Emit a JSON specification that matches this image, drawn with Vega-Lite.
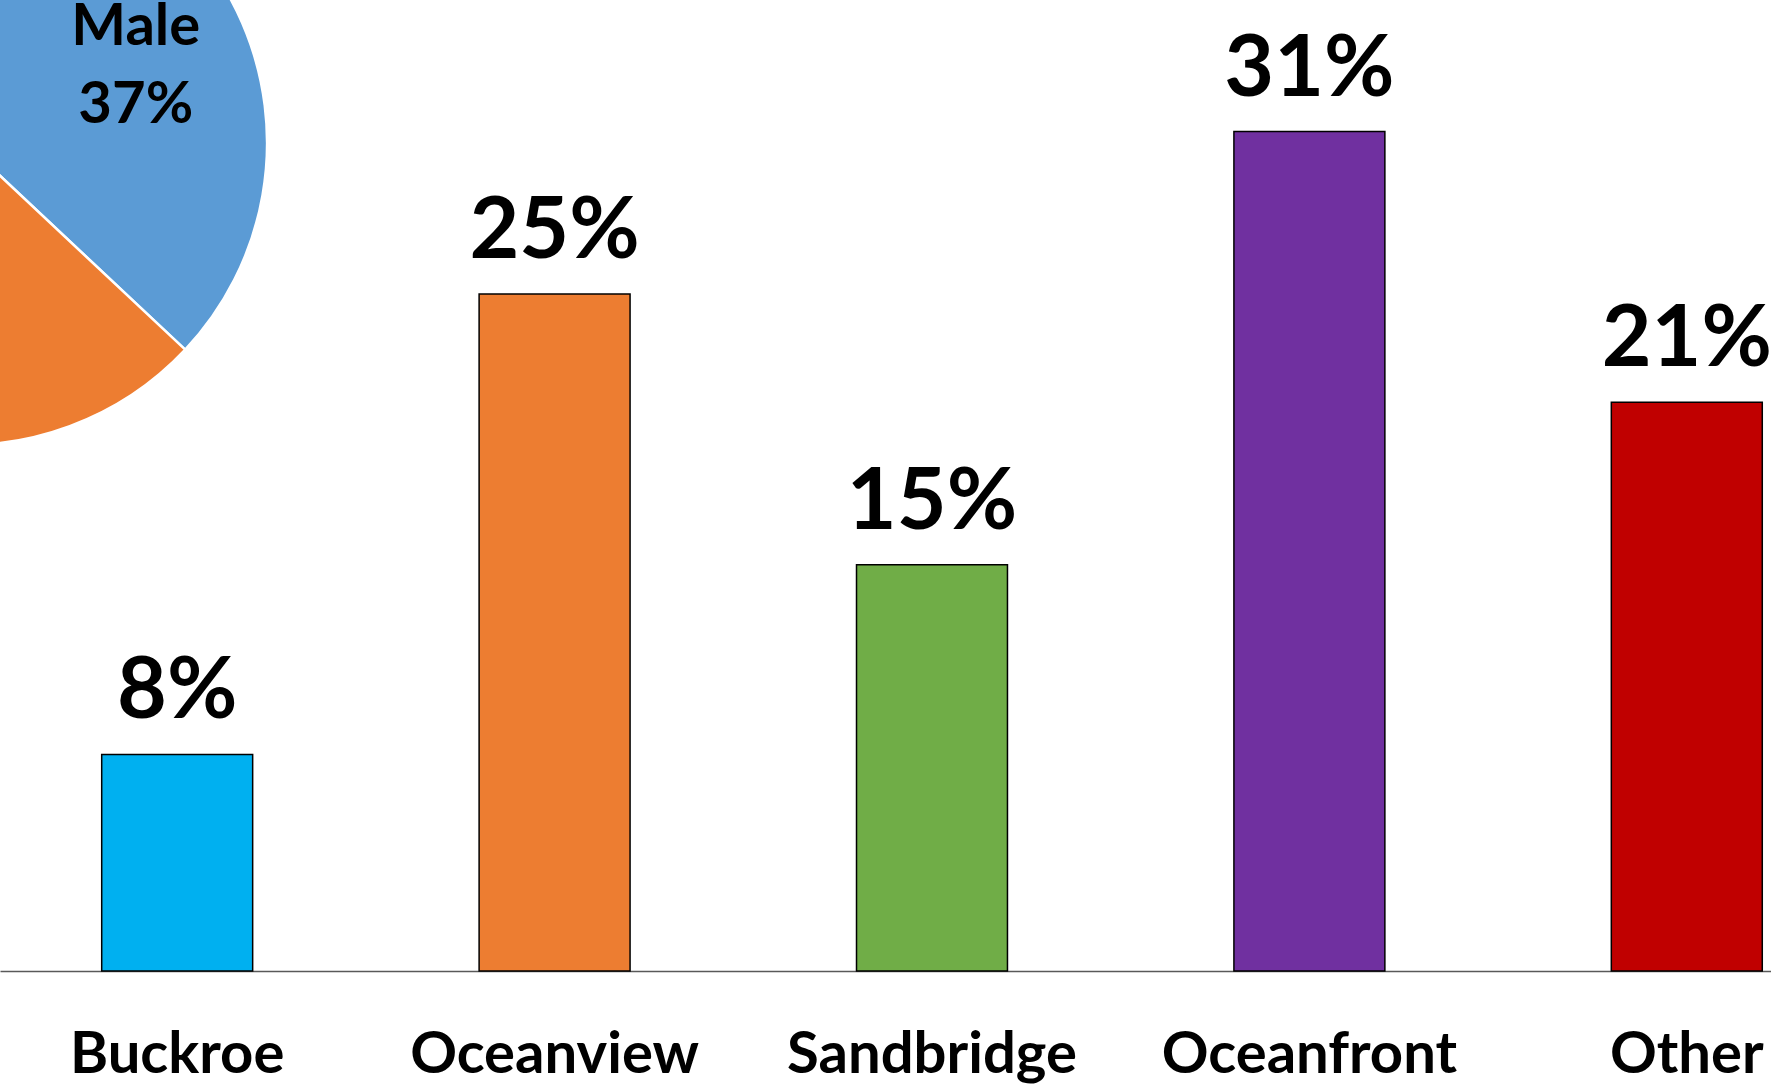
{
  "$schema": "https://vega.github.io/schema/vega-lite/v6.json",
  "width": 1771,
  "height": 971,
  "autosize": {"type": "none"},
  "padding": {"left": 0, "top": 0, "right": 0, "bottom": 114},
  "background": "white",
  "config": {"view": {"stroke": null}, "font": "Lato", "axis": {"grid": false}},
  "datasets": {
    "beaches": [
      {"beach": "Buckroe", "share": 0.08},
      {"beach": "Oceanview", "share": 0.25},
      {"beach": "Sandbridge", "share": 0.15},
      {"beach": "Oceanfront", "share": 0.31},
      {"beach": "Other", "share": 0.21}
    ],
    "gender": [
      {"gender": "Male", "share": 0.37},
      {"gender": "Female", "share": 0.63}
    ]
  },
  "layer": [
    {
      "data": {"name": "beaches"},
      "encoding": {
        "x": {
          "field": "beach",
          "type": "nominal",
          "sort": null,
          "scale": {"paddingInner": 0.6, "paddingOuter": 0.1463, "align": 0.921},
          "axis": {
            "title": null,
            "labelFont": "Lato",
            "labelFontWeight": "bold",
            "labelFontSize": 58,
            "labelColor": "#000000",
            "labelPadding": 101.5,
            "labelBaseline": "alphabetic",
            "labelAngle": 0,
            "labelLimit": 0,
            "labelOverlap": false,
            "labelFlush": false,
            "ticks": false,
            "tickSize": 0,
            "domainColor": "#595959",
            "domainWidth": 1.5
          }
        },
        "y": {
          "field": "share",
          "type": "quantitative",
          "scale": {"domain": [0, 0.3586], "nice": false, "zero": true},
          "axis": null
        }
      },
      "layer": [
        {
          "mark": {"type": "bar", "stroke": "#000000", "strokeWidth": 1.5},
          "encoding": {
            "color": {
              "field": "beach",
              "type": "nominal",
              "sort": null,
              "scale": {
                "domain": ["Buckroe", "Oceanview", "Sandbridge", "Oceanfront", "Other"],
                "range": ["#00B0F0", "#ED7D31", "#70AD47", "#7030A0", "#C00000"]
              },
              "legend": null
            }
          }
        },
        {
          "mark": {"type": "text", "font": "Lato", "fontWeight": "bold", "fontSize": 86, "baseline": "alphabetic", "align": "center", "dy": -36, "fill": "#000000"},
          "encoding": {
            "text": {"field": "share", "type": "quantitative", "format": ".0%"}
          }
        }
      ]
    },
    {
      "data": {"name": "gender"},
      "encoding": {
        "x": {"datum": -0.0129, "type": "quantitative", "scale": {"domain": [0, 0.6541], "nice": false, "zero": false}, "axis": null},
        "y": {"datum": 0.3058, "type": "quantitative", "scale": {"domain": [0, 0.3586], "nice": false, "zero": true}, "axis": null},
        "theta": {"field": "share", "type": "quantitative", "stack": true},
        "order": {"field": "gender", "sort": "descending"}
      },
      "layer": [
        {
          "mark": {"type": "arc", "outerRadius": 302, "stroke": "#ffffff", "strokeWidth": 2.5},
          "encoding": {
            "color": {
              "field": "gender",
              "type": "nominal",
              "scale": {"domain": ["Male", "Female"], "range": ["#5B9BD5", "#ED7D31"]},
              "legend": null
            }
          }
        },
        {
          "transform": [{"filter": "datum.gender === 'Male'"}],
          "mark": {"type": "text", "radius": 186, "font": "Lato", "fontWeight": "bold", "fontSize": 58, "baseline": "alphabetic", "align": "center", "dy": -24, "fill": "#000000"},
          "encoding": {
            "theta": {"datum": 0.37, "type": "quantitative"},
            "text": {"field": "gender", "type": "nominal"}
          }
        },
        {
          "transform": [{"filter": "datum.gender === 'Male'"}],
          "mark": {"type": "text", "radius": 186, "font": "Lato", "fontWeight": "bold", "fontSize": 58, "baseline": "alphabetic", "align": "center", "dy": 54, "fill": "#000000"},
          "encoding": {
            "theta": {"datum": 0.37, "type": "quantitative"},
            "text": {"field": "share", "type": "quantitative", "format": ".0%"}
          }
        }
      ]
    }
  ],
  "resolve": {"scale": {"x": "independent", "color": "independent"}}
}
